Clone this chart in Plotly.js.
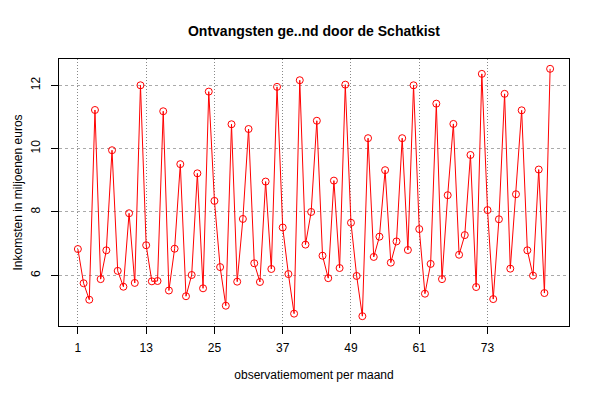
<!DOCTYPE html>
<html>
<head>
<meta charset="utf-8">
<script src="https://cdn.plot.ly/plotly-3.0.1.min.js"></script>
<style>html,body{margin:0;padding:0;background:#fff;}#chart{width:600px;height:400px;}</style>
</head>
<body>
<div id="chart"></div>
<script>
var months = [1,2,3,4,5,6,7,8,9,10,11,12,13,14,15,16,17,18,19,20,21,22,23,24,25,26,27,28,29,30,31,32,33,34,35,36,37,38,39,40,41,42,43,44,45,46,47,48,49,50,51,52,53,54,55,56,57,58,59,60,61,62,63,64,65,66,67,68,69,70,71,72,73,74,75,76,77,78,79,80,81,82,83,84];
var income = [6.83,5.75,5.23,11.22,5.88,6.79,9.95,6.14,5.64,7.96,5.76,12.00,6.95,5.81,5.82,11.18,5.52,6.84,9.51,5.34,6.01,9.22,5.59,11.80,8.35,6.26,5.04,10.77,5.80,7.78,10.62,6.38,5.79,8.96,6.20,11.95,7.51,6.04,4.79,12.16,6.97,8.00,10.88,6.62,5.91,8.99,6.23,12.02,7.66,5.98,4.71,10.33,6.58,7.22,9.32,6.40,7.07,10.33,6.80,12.00,7.46,5.42,6.36,11.42,5.88,8.53,10.78,6.65,7.27,9.80,5.63,12.36,8.06,5.25,7.77,11.73,6.21,8.56,11.21,6.79,5.99,9.34,5.44,12.52];
var xTicks = [1,13,25,37,49,61,73];
var yTicks = [6,8,10,12];

var trace = {
  x: months, y: income, type: 'scatter', mode: 'lines+markers',
  line: {color: '#ff0000', width: 1},
  marker: {symbol: 'circle-open', size: 7, color: '#ff0000', line: {width: 1, color: '#ff0000'}},
  cliponaxis: false,
  hoverinfo: 'x+y'
};
var font = {family: 'Liberation Sans, Arial, Helvetica, sans-serif', size: 12, color: '#000'};
var layout = {
  width: 600, height: 400,
  margin: {l: 59, r: 31, t: 59, b: 74},
  paper_bgcolor: '#fff', plot_bgcolor: '#fff',
  font: font,
  showlegend: false,
  title: {text: '<b>Ontvangsten ge..nd door de Schatkist</b>', font: {family: font.family, size: 14, color: '#000'},
          x: 0.5, xref: 'paper', xanchor: 'center', y: 1 - 31/400, yref: 'container', yanchor: 'middle'},
  xaxis: {
    range: [-2.32, 87.32], tickmode: 'array', tickvals: xTicks, ticktext: xTicks.map(String),
    showgrid: true, gridcolor: '#888', griddash: '1px,2px', gridwidth: 1,
    zeroline: false, showline: true, linecolor: '#000', linewidth: 1, mirror: true,
    ticks: 'outside', ticklen: 7, tickcolor: '#000', tickwidth: 1, ticklabelstandoff: 4,
    tickfont: font,
    title: {text: 'observatiemoment per maand', font: font, standoff: 16}
  },
  yaxis: {
    range: [4.40, 12.83], tickmode: 'array', tickvals: yTicks, ticktext: yTicks.map(String),
    showgrid: true, gridcolor: '#aaa', griddash: '3px,3px', gridwidth: 1,
    zeroline: false, showline: true, linecolor: '#000', linewidth: 1, mirror: true,
    ticks: 'outside', ticklen: 7, tickcolor: '#000', tickwidth: 1, tickangle: -90, ticklabelstandoff: 6,
    tickfont: font,
    title: {text: 'Inkomsten in miljoenen euros', font: font, standoff: 4}
  }
};
Plotly.newPlot('chart', [trace], layout, {displayModeBar: false, staticPlot: true});
</script>
</body>
</html>
